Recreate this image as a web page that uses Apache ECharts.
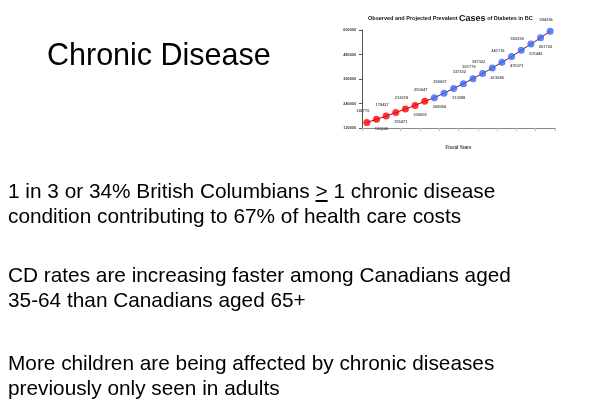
<!DOCTYPE html>
<html>
<head>
<meta charset="utf-8">
<script src="https://cdn.jsdelivr.net/npm/echarts@6/dist/echarts.min.js"></script>
<style>
  html, body { margin:0; padding:0; background:#fff; }
  #wrap { position:relative; width:600px; height:416px; overflow:hidden; }
  #chart { position:absolute; left:0; top:0; width:600px; height:416px; }
  .t { position:absolute; font-family:"Liberation Sans", Arial, sans-serif; color:#000; white-space:nowrap; }
  #title { left:47px; top:36px; font-size:30.5px; line-height:36px; }
  .p { left:8px; font-size:20.8px; line-height:25px; }
</style>
</head>
<body>
<div id="wrap">
  <div id="chart"></div>
  <div class="t" id="title">Chronic Disease</div>
  <div class="t p" style="top:178px">1 in 3 or 34% British Columbians <u>&gt;</u> 1 chronic disease<br>condition contributing to 67% of health care costs</div>
  <div class="t p" style="top:262px">CD rates are increasing faster among Canadians aged<br>35-64 than Canadians aged 65+</div>
  <div class="t p" style="top:350px">More children are being affected by chronic diseases<br>previously only seen in adults</div>
</div>
<script>
// ---- data ----
const categories = ['1','2','3','4','5','6','7','8','9','10','11','12','13','14','15','16','17','18','19','20'];
const observed = [146776, 162646, 178437, 195471, 212674, 230605, 250647];
const projected = [268094, 290697, 313688, 337302, 361776, 387322, 413686, 441716, 470073, 500290, 531446, 561726, 594296];
const yTicks = [120000, 240000, 360000, 480000, 600000];
// label placement (style): indices whose labels sit below the point
const belowIdx = [1, 3, 5, 7, 9, 13, 15, 17, 18];

const all = observed.concat(projected);
function lbl(i) {
  const below = belowIdx.indexOf(i) >= 0;
  return { position: below ? 'bottom' : 'top', offset: below ? [5, 0] : [-4, -2] };
}
const obsData = observed.map((v, i) => ({ value: [categories[i], v], label: lbl(i) }));
const projData = projected.map((v, j) => {
  const i = j + observed.length;
  return { value: [categories[i], v], label: lbl(i) };
});

const FONT = 'Liberation Sans, Arial, sans-serif';
const chart = echarts.init(document.getElementById('chart'));
const labelCommon = {
  show: true, fontSize: 4, fontWeight: 'bold', color: '#333',
  fontFamily: FONT, distance: 4,
  formatter: p => String(p.value[1])
};
chart.setOption({
  animation: false,
  backgroundColor: '#fff',
  title: {
    left: 363, top: 9,
    text: '{a|Observed and Projected Prevalent }{b|Cases}{a| of Diabetes in BC}',
    textStyle: {
      rich: {
        a: { fontSize: 5.5, fontWeight: 'bold', color: '#111', fontFamily: FONT },
        b: { fontSize: 9, color: '#111', fontFamily: FONT }
      }
    }
  },
  grid: { left: 362, top: 30, width: 193, height: 98 },
  xAxis: {
    type: 'category', data: categories, boundaryGap: true,
    name: 'Fiscal Years', nameLocation: 'middle', nameGap: 17,
    nameTextStyle: { fontSize: 4.5, fontWeight: 'bold', color: '#333', fontFamily: FONT },
    axisLine: { lineStyle: { color: '#888', width: 1 } },
    axisTick: { show: true, length: 3, lineStyle: { color: '#bbb' } },
    axisLabel: { show: false },
    splitLine: { show: false }
  },
  yAxis: {
    type: 'value', min: yTicks[0], max: yTicks[yTicks.length - 1],
    interval: yTicks[1] - yTicks[0],
    axisLine: { show: true, lineStyle: { color: '#555', width: 1 } },
    axisTick: { show: true, length: 3, lineStyle: { color: '#555' } },
    axisLabel: { fontSize: 3.8, fontWeight: 'bold', color: '#333', margin: 6, fontFamily: FONT,
                 formatter: v => String(v) },
    splitLine: { show: false }
  },
  series: [
    {
      name: 'Trend', type: 'line', data: all, symbol: 'none', z: 1,
      lineStyle: { color: '#a00020', width: 1 }
    },
    {
      name: 'Observed', type: 'scatter', data: obsData, symbolSize: 7, z: 3,
      itemStyle: { color: '#ff0000' }, label: labelCommon
    },
    {
      name: 'Projected', type: 'scatter', data: projData, symbolSize: 7, z: 3,
      itemStyle: { color: '#3366f2' }, label: labelCommon
    }
  ]
});
</script>
</body>
</html>
